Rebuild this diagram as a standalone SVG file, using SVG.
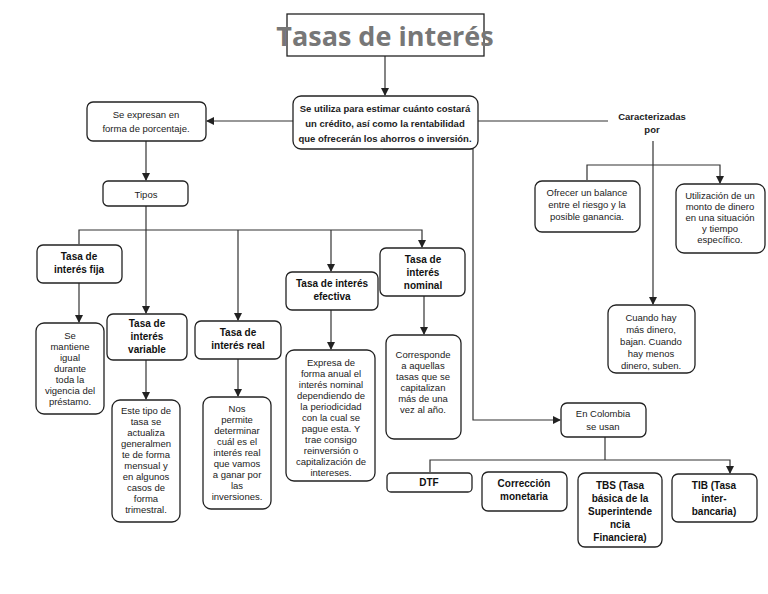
<svg xmlns="http://www.w3.org/2000/svg" width="768" height="594" viewBox="0 0 768 594">
<style>
.b{fill:#fff;stroke:#222;stroke-width:1.3}
.t{font-family:"Liberation Sans",Arial,sans-serif;font-size:9.5px;fill:#222;text-anchor:middle}
.h{font-family:"Liberation Sans",Arial,sans-serif;font-size:10px;font-weight:bold;fill:#111;text-anchor:middle}
.c{fill:none;stroke:#333;stroke-width:1.2}
</style>
<defs><marker id="a" markerWidth="8" markerHeight="8" refX="7" refY="4" orient="auto" markerUnits="userSpaceOnUse"><path d="M0,0 L8,4 L0,8z" fill="#222"/></marker></defs>
<rect width="768" height="594" fill="#fff"/>
<g id="connectors">
<path class="c" d="M385,56 V95" marker-end="url(#a)"/>
<path class="c" d="M293,121 H207" marker-end="url(#a)"/>
<path class="c" d="M478,121 H608"/>
<path class="c" d="M146,141 V180" marker-end="url(#a)"/>
<path class="c" d="M146,206 V313" marker-end="url(#a)"/>
<path class="c" d="M79,244 V230 H422 V247" marker-end="url(#a)"/>
<path class="c" d="M238,230 V320" marker-end="url(#a)"/>
<path class="c" d="M331,230 V271" marker-end="url(#a)"/>
<path class="c" d="M79,283 V322" marker-end="url(#a)"/>
<path class="c" d="M146,360 V399" marker-end="url(#a)"/>
<path class="c" d="M238,359 V396" marker-end="url(#a)"/>
<path class="c" d="M331,310 V349" marker-end="url(#a)"/>
<path class="c" d="M424,296 V334" marker-end="url(#a)"/>
<path class="c" d="M383,149 H473 V420 H560" marker-end="url(#a)"/>
<path class="c" d="M605,437 V460"/>
<path class="c" d="M430,472 V460 H730 V473" marker-end="url(#a)"/>
<path class="c" d="M653,141 V304" marker-end="url(#a)"/>
<path class="c" d="M587,180 V165 H720 V183" marker-end="url(#a)"/>
</g>
<g id="title"><rect x="287" y="14" width="197" height="42" fill="#fff" stroke="#222" stroke-width="1.3"/><text x="385" y="46" font-family="'Open Sans','Liberation Sans',sans-serif" font-size="27" font-weight="bold" fill="#777" text-anchor="middle">Tasas de interés</text></g>
<g id="central"><rect class="b" x="293" y="96" width="185" height="53" rx="8"/><text class="t" font-weight="bold" font-size="9"><tspan x="385" y="112">Se utiliza para estimar cuánto costará</tspan><tspan x="385" y="127">un crédito, así como la rentabilidad</tspan><tspan x="385" y="142">que ofrecerán los ahorros o inversión.</tspan></text></g>
<g id="porcentaje"><rect class="b" x="87" y="102" width="119" height="39" rx="6"/><text class="t" font-size="11"><tspan x="146" y="118">Se expresan en</tspan><tspan x="146" y="132">forma de porcentaje.</tspan></text></g>
<g id="caract"><text class="t" font-weight="bold" font-size="8.5"><tspan x="652" y="120">Caracterizadas</tspan><tspan x="652" y="133">por</tspan></text></g>
<g id="tipos"><rect class="b" x="103" y="181" width="85" height="25" rx="5"/><text class="t" font-size="11" x="146" y="198">Tipos</text></g>
<g id="fija"><rect class="b" x="37" y="245" width="85" height="38" rx="6"/><text class="h"><tspan x="79" y="260">Tasa de</tspan><tspan x="79" y="273">interés fija</tspan></text></g>
<g id="fijad"><rect class="b" x="36" y="323" width="68" height="91" rx="8"/><text class="t" font-size="9"><tspan x="70" y="339">Se</tspan><tspan x="70" y="350">mantiene</tspan><tspan x="70" y="361">igual</tspan><tspan x="70" y="372">durante</tspan><tspan x="70" y="383">toda la</tspan><tspan x="70" y="394">vigencia del</tspan><tspan x="70" y="405">préstamo.</tspan></text></g>
<g id="variable"><rect class="b" x="107" y="314" width="80" height="46" rx="6"/><text class="h"><tspan x="147" y="327">Tasa de</tspan><tspan x="147" y="340">interés</tspan><tspan x="147" y="353">variable</tspan></text></g>
<g id="variabled"><rect class="b" x="112" y="400" width="68" height="122" rx="8"/><text class="t" font-size="9"><tspan x="146" y="414">Este tipo de</tspan><tspan x="146" y="425">tasa se</tspan><tspan x="146" y="436">actualiza</tspan><tspan x="146" y="447">generalmen</tspan><tspan x="146" y="458">te de forma</tspan><tspan x="146" y="469">mensual y</tspan><tspan x="146" y="480">en algunos</tspan><tspan x="146" y="491">casos de</tspan><tspan x="146" y="502">forma</tspan><tspan x="146" y="513">trimestral.</tspan></text></g>
<g id="real"><rect class="b" x="195" y="321" width="86" height="38" rx="6"/><text class="h"><tspan x="238" y="336">Tasa de</tspan><tspan x="238" y="349">interés real</tspan></text></g>
<g id="reald"><rect class="b" x="203" y="397" width="68" height="112" rx="8"/><text class="t" font-size="9"><tspan x="237" y="412">Nos</tspan><tspan x="237" y="423">permite</tspan><tspan x="237" y="434">determinar</tspan><tspan x="237" y="445">cuál es el</tspan><tspan x="237" y="456">interés real</tspan><tspan x="237" y="467">que vamos</tspan><tspan x="237" y="478">a ganar por</tspan><tspan x="237" y="489">las</tspan><tspan x="237" y="500">inversiones.</tspan></text></g>
<g id="efectiva"><rect class="b" x="286" y="272" width="92" height="38" rx="6"/><text class="h"><tspan x="332" y="287">Tasa de interés</tspan><tspan x="332" y="300">efectiva</tspan></text></g>
<g id="efectivad"><rect class="b" x="286" y="350" width="89" height="131" rx="8"/><text class="t" font-size="9"><tspan x="331" y="366">Expresa de</tspan><tspan x="331" y="377">forma anual el</tspan><tspan x="331" y="388">interés nominal</tspan><tspan x="331" y="399">dependiendo de</tspan><tspan x="331" y="410">la periodicidad</tspan><tspan x="331" y="421">con la cual se</tspan><tspan x="331" y="432">pague esta. Y</tspan><tspan x="331" y="443">trae consigo</tspan><tspan x="331" y="454">reinversión o</tspan><tspan x="331" y="465">capitalización de</tspan><tspan x="331" y="476">intereses.</tspan></text></g>
<g id="nominal"><rect class="b" x="380" y="248" width="85" height="48" rx="6"/><text class="h"><tspan x="423" y="263">Tasa de</tspan><tspan x="423" y="276">interés</tspan><tspan x="423" y="289">nominal</tspan></text></g>
<g id="nominald"><rect class="b" x="386" y="335" width="75" height="104" rx="8"/><text class="t" font-size="9"><tspan x="423" y="358">Corresponde</tspan><tspan x="423" y="369">a aquellas</tspan><tspan x="423" y="380">tasas que se</tspan><tspan x="423" y="391">capitalizan</tspan><tspan x="423" y="402">más de una</tspan><tspan x="423" y="413">vez al año.</tspan></text></g>
<g id="ofrecer"><rect class="b" x="535" y="181" width="105" height="51" rx="7"/><text class="t" font-size="10"><tspan x="587" y="196">Ofrecer un balance</tspan><tspan x="587" y="208">entre el riesgo y la</tspan><tspan x="587" y="220">posible ganancia.</tspan></text></g>
<g id="utilizacion"><rect class="b" x="676" y="184" width="89" height="69" rx="8"/><text class="t" font-size="9"><tspan x="720" y="199">Utilización de un</tspan><tspan x="720" y="210">monto de dinero</tspan><tspan x="720" y="221">en una situación</tspan><tspan x="720" y="232">y tiempo</tspan><tspan x="720" y="243">específico.</tspan></text></g>
<g id="cuando"><rect class="b" x="608" y="305" width="87" height="68" rx="8"/><text class="t" font-size="9.5"><tspan x="651" y="321">Cuando hay</tspan><tspan x="651" y="333">más dinero,</tspan><tspan x="651" y="345">bajan. Cuando</tspan><tspan x="651" y="357">hay menos</tspan><tspan x="651" y="369">dinero, suben.</tspan></text></g>
<g id="colombia"><rect class="b" x="561" y="403" width="85" height="34" rx="6"/><text class="t" font-size="10.5"><tspan x="603" y="417">En Colombia</tspan><tspan x="603" y="430">se usan</tspan></text></g>
<g id="dtf"><rect class="b" x="387" y="473" width="85" height="19" rx="4"/><text class="h" x="429" y="486">DTF</text></g>
<g id="correccion"><rect class="b" x="482" y="472" width="85" height="39" rx="6"/><text class="h"><tspan x="524" y="487">Corrección</tspan><tspan x="524" y="500">monetaria</tspan></text></g>
<g id="tbs"><rect class="b" x="578" y="473" width="84" height="74" rx="7"/><text class="h"><tspan x="620" y="489">TBS (Tasa</tspan><tspan x="620" y="502">básica de la</tspan><tspan x="620" y="515">Superintende</tspan><tspan x="620" y="528">ncia</tspan><tspan x="620" y="541">Financiera)</tspan></text></g>
<g id="tib"><rect class="b" x="672" y="474" width="85" height="48" rx="6"/><text class="h"><tspan x="714" y="489">TIB (Tasa</tspan><tspan x="714" y="502">inter-</tspan><tspan x="714" y="515">bancaria)</tspan></text></g>
</svg>
